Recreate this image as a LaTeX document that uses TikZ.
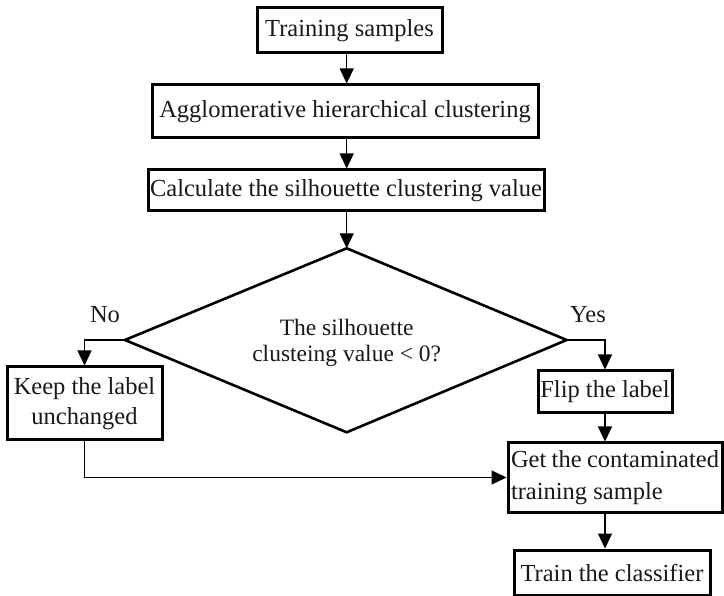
\documentclass[tikz,border=0pt]{standalone}
\usepackage{fontspec}
\setmainfont{Liberation Serif}
\usetikzlibrary{arrows.meta}
\begin{document}
\begin{tikzpicture}[x=1pt,y=-1pt,
  every node/.style={font=\fontsize{24.5}{30}\selectfont, inner sep=0pt, text=black!90},
  box/.style={draw, line width=3pt, rectangle, align=center},
  decision/.style={draw, line width=2.6pt, line join=miter},
  arr/.style={line width=1.2pt, -{Triangle[length=15pt,width=14pt]}},
  lbl/.style={}]
\useasboundingbox (0,0) rectangle (724,596);

% process steps
\node[box, minimum width=185pt, minimum height=45pt] (ts) at (349.5,30.5) {Training samples};
\node[box, minimum width=386pt, minimum height=53pt] (agg) at (345,111.5) {Agglomerative hierarchical clustering};
\node[box, minimum width=396pt, minimum height=41pt] (calc) at (346,190.5) {Calculate the silhouette clustering value};

% decision: diamond outline through four named corners
\coordinate (dtop) at (346.7,248.3);
\coordinate (dleft) at (125,340);
\coordinate (dright) at (566.7,340);
\coordinate (dbot) at (346.7,432.3);
\draw[decision] (dtop) -- (dright) -- (dbot) -- (dleft) -- cycle;
\node[align=center, font=\fontsize{23.5}{26}\selectfont] (dia) at (346.7,343)
  {The silhouette\\clusteing value < 0?};

\node[box, minimum width=155pt, minimum height=73pt] (keep) at (84.5,403.5) {Keep the label\\unchanged};
\node[box, minimum width=134pt, minimum height=42pt] (flip) at (605,392) {Flip the label};
\node[box, minimum width=214pt, minimum height=69pt, text width=208pt, align=justify] (get) at (615,477.5)
  {\fontsize{24.5}{32}\selectfont Get the contaminated training sample\par};
\node[box, minimum width=196pt, minimum height=45pt] (train) at (612,572.5) {Train the classifier};

% branch labels
\node[lbl] (no) at (105,315) {No};
\node[lbl] (yes) at (588,315) {Yes};

% connectors
\draw[arr] (ts.south -| dtop) -- (agg.north -| dtop);
\draw[arr] (agg.south -| dtop) -- (calc.north -| dtop);
\draw[arr] (calc.south -| dtop) -- (dtop);
\draw[arr] (dleft) -| (keep.north);
\draw[arr] (dright) -| (flip.north);
\draw[arr] (flip.south) -- (flip.south |- get.north);
\draw[arr] (get.south -| flip.south) -- (train.north -| flip.south);
\draw[arr] (keep.south) |- (get.west);
\end{tikzpicture}
\end{document}
